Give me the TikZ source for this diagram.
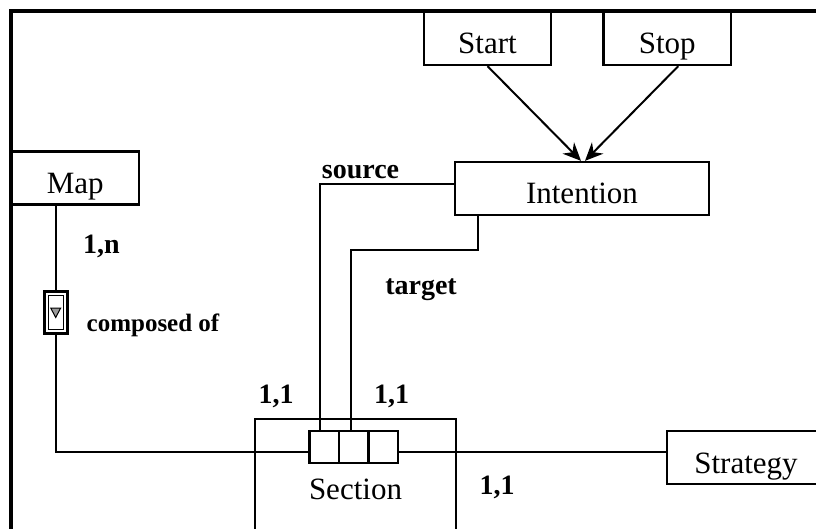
\documentclass[tikz,border=0pt]{standalone}
\usepackage{fontspec}
\setmainfont{Liberation Serif}
\usetikzlibrary{arrows.meta}
\begin{document}
\begin{tikzpicture}[x=1pt,y=-1pt,
  box/.style={draw,line width=2.3pt,inner sep=0pt,text height=42pt,text depth=11pt,font=\fontsize{31}{36}\selectfont},
  lab/.style={font=\fontsize{28}{32}\selectfont\bfseries,inner sep=0pt},
  smalllab/.style={font=\fontsize{25}{30}\selectfont\bfseries,inner sep=0pt},
  conn/.style={line width=2pt},
  arr/.style={conn,-{Stealth[length=18pt,width=16pt]}},
  cell/.style={draw,line width=2.3pt,minimum width=29.5pt,minimum height=32pt,inner sep=0pt}]
\useasboundingbox (0,0) rectangle (816,529);
\clip (0,0) rectangle (816,529);
\draw[line width=3.2pt] (11,540) -- (11,11) -- (830,11);

\node[box,minimum width=127pt] (start) at (487.5,38.5) {Start};
\node[box,minimum width=127.5pt] (stop) at (667.25,38.5) {Stop};
\node[box,minimum width=254pt] (intention) at (582,188.5) {Intention};
\node[box,minimum width=128pt] (map) at (75.2,178) {Map};
\node[box,minimum width=158pt] (strategy) at (746,457.5) {Strategy};
\node[box,minimum width=201pt,text height=80pt,text depth=60pt] (section) at (355.5,489) {Section};

\node[cell] (c1) at (324.3,447) {};
\node[cell] (c2) at (353.7,447) {};
\node[cell] (c3) at (383.4,447) {};

\node[draw,line width=2.6pt,minimum width=23pt,minimum height=42pt,inner sep=0pt] (comp) at (55.7,312.5) {};
\draw[line width=1pt] (48.2,295.8) rectangle (63.2,329.2);
\filldraw[fill=gray!80,line width=1pt] (50.7,308) -- (60.7,308) -- (55.7,317.5) -- cycle;

\draw[arr] (start.south) -- ([xshift=-1pt]intention.north);
\draw[arr] ([xshift=11pt]stop.south) -- ([xshift=3pt]intention.north);
\draw[conn] ([xshift=-19.5pt]map.south) -- (comp.north);
\draw[conn] (comp.south) |- ([yshift=-5pt]c1.west);
\coordinate (hl) at ([yshift=-5pt]c3.east);
\draw[conn] (hl) -- (hl -| strategy.west);
\draw[conn] ([yshift=4.5pt]intention.west) -| ([xshift=-4.3pt]c1.north);
\draw[conn] ([xshift=-104.4pt]intention.south) -- ++(0,33.6) -| ([xshift=-2.7pt]c2.north);

\node[lab] (lsource) at (360.5,172) {source};
\node[lab] (ltarget) at (421,289.5) {target};
\node[lab] (l1n) at (101.5,246) {1,n};
\node[smalllab] (lcomp) at (153,325.6) {composed of};
\node[lab] (l11a) at (276,396) {1,1};
\node[lab] (l11b) at (391.5,396) {1,1};
\node[lab] (l11c) at (497,487) {1,1};
\end{tikzpicture}
\end{document}
